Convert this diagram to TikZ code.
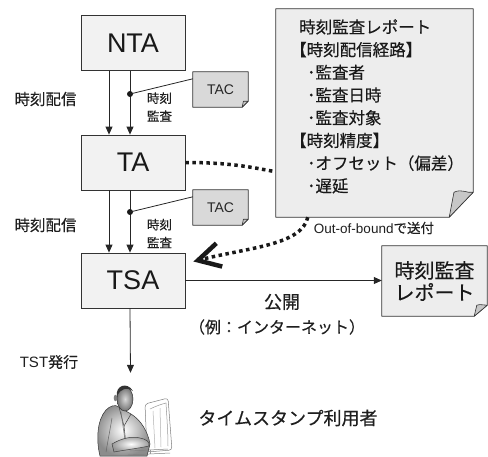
\documentclass[tikz,border=0pt]{standalone}
\usepackage{fontspec}
\setmainfont{Liberation Sans}
\newfontfamily\jp[FakeBold=0.3]{Noto Sans CJK JP}
\usetikzlibrary{arrows.meta,calc}
\pgfdeclarelayer{bg}
\pgfsetlayers{bg,main}

% sheet of paper with a curled lower right corner, drawn behind node #1
\newcommand{\curlsheet}[4]{%
  \begin{pgfonlayer}{bg}
    \filldraw[fill=#4, draw=black!80, line width=0.8pt, line join=round]
      (#1.north west) -- (#1.north east) -- ($(#1.south east)+(0,-#3)$)
      -- ($(#1.south east)+(-#2,0)$) -- (#1.south west) -- cycle;
    \filldraw[fill=black!22, draw=black!80, line width=0.6pt, line join=round]
      ($(#1.south east)+(-#2,0)$) -- ($(#1.south east)+(-0.8*#2,-#3)$)
      .. controls ($(#1.south east)+(-0.45*#2,-1.15*#3)$) and ($(#1.south east)+(-0.3*#2,-0.95*#3)$)
      .. ($(#1.south east)+(0,-#3)$) -- cycle;
  \end{pgfonlayer}}

\tikzset{
  unit/.style={draw=black!80, fill=black!5, line width=0.8pt, minimum width=104pt,
    minimum height=55pt, inner sep=0pt, text=black!90, font=\fontsize{27}{27}\selectfont},
  tacnote/.style={minimum width=55pt, minimum height=35pt, inner sep=0pt,
    text=black!85, font=\fontsize{14}{14}\selectfont},
  sheet/.style={inner sep=0pt},
  arr/.style={-{Triangle[length=8pt,width=7pt]}, line width=0.8pt, draw=black!85},
  thin/.style={line width=0.8pt, draw=black!85},
  junction/.style={circle, fill=black!90, inner sep=0pt, minimum size=6pt},
  lbl/.style={inner sep=0pt, text=black!88, font=\jp\fontsize{15.5}{18}\selectfont},
  sublbl/.style={inner sep=0pt, text=black!88, align=center, font=\jp\fontsize{12.5}{18}\selectfont},
  biglbl/.style={inner sep=0pt, text=black!88, align=center, font=\jp\fontsize{18}{22}\selectfont},
  dotline/.style={line width=3.5pt, dash pattern=on 3.5pt off 3.5pt, draw=black!90},
}

\begin{document}
\begin{tikzpicture}[x=1pt, y=-1pt]
\useasboundingbox (0,0) rectangle (488,456);

% the three time authorities
\node[unit] (nta) at (133,43) {NTA};
\node[unit] (ta)  at (133,162.5) {TA};
\node[unit] (tsa) at (133,280.5) {TSA};

% time distribution and audit lines
\draw[arr] ($(nta.south)+(-24,0)$) -- ($(ta.north)+(-24,0)$);
\draw[arr] ($(nta.south)+(-3,0)$) -- ($(ta.north)+(-3,0)$);
\draw[arr] ($(ta.south)+(-24,0)$) -- ($(tsa.north)+(-24,0)$);
\draw[arr] ($(ta.south)+(-3,0)$) -- ($(tsa.north)+(-3,0)$);

\node[junction] (j1) at (130,94) {};
\node[junction] (j2) at (130,212) {};

% TAC tokens
\node[tacnote] (tac1) at (220.5,89.5) {TAC};
\node[tacnote] (tac2) at (220.5,207.5) {TAC};
\curlsheet{tac1}{6}{6}{black!15}
\curlsheet{tac2}{6}{6}{black!15}
\draw[thin] (j1.center) -- ($(tac1.north west)+(0,7)$);
\draw[thin] (j2.center) -- ($(tac2.north west)+(0,7)$);

\node[lbl] (dist1) at (45.5,99) {時刻配信};
\node[lbl] (dist2) at (45.5,225) {時刻配信};
\node[sublbl] (aud1) at (159.5,107) {時刻\\監査};
\node[sublbl] (aud2) at (159.5,233.5) {時刻\\監査};

% audit report sheet
\node[sheet, minimum width=197pt, minimum height=208pt] (report) at (374.5,113) {};
\curlsheet{report}{24}{25}{black!7}
\node[inner sep=0pt, anchor=north west, align=left, text=black!90,
      font=\jp\fontsize{16.5}{22.7}\selectfont] (reporttext) at (290,19)
  {\hspace*{9pt}時刻監査レポート\\
   【時刻配信経路】\\
   \hspace*{17pt}･監査者\\
   \hspace*{17pt}･監査日時\\
   \hspace*{17pt}･監査対象\\
   【時刻精度】\\
   \hspace*{17pt}･オフセット（偏差）\\
   \hspace*{17pt}･遅延};

% published report sheet
\node[sheet, minimum width=105pt, minimum height=70pt, align=left, text=black!90,
      font=\jp\fontsize{20}{22}\selectfont] (pubreport) at (434.5,281)
  {時刻監査\\レポート};
\curlsheet{pubreport}{13}{11}{black!7}

% out-of-band report delivery
\coordinate (rin) at ($(report.south west)+(-3,-46)$);
\draw[dotline] (ta.east) .. controls +(45,0) and +(-22,-4) .. (rin);
\coordinate (rout) at ($(report.south west)+(32,0)$);
\coordinate (tsain) at ($(tsa.east)+(8,-19)$);
\draw[dotline, -{Straight Barb[length=22pt,width=24pt,line width=4.5pt]}]
  (rout) .. controls +(-6,28) and +(55,-14) .. (tsain);
\node[inner sep=0pt, text=black!88, font=\fontsize{13.5}{14}\selectfont] (oob) at (374,228)
  {Out-of-bound{\jp で送付}};

% publication
\draw[arr] (tsa.east) -- (tsa.east -| pubreport.west);
\node[biglbl] (pub) at (282,302) {公開};
\node[inner sep=0pt, text=black!88, font=\jp\fontsize{16}{18}\selectfont] (pubex) at (277,327)
  {（例：インターネット）};

% timestamp user
\node[inner sep=0pt, minimum width=73pt, minimum height=72pt] (user) at (133.5,420) {};
\draw[arr] ($(tsa.south)+(-3,0)$) -- ($(user.north)+(-3,-11)$);
\node[inner sep=0pt, text=black!88, font=\fontsize{15}{16}\selectfont] (tst) at (49,362)
  {TST{\jp 発行}};
\node[biglbl] (userlbl) at (288,418) {タイムスタンプ利用者};

% figure of a person at a computer
\begin{scope}[line width=0.5pt]
  % monitor
  \filldraw[fill=white, draw=black!50, rounded corners=3pt]
    (145,404) -- (168,398) -- (172,450) -- (147,452) -- cycle;
  \draw[black!40] (150,409) .. controls (156,406) and (162,404) .. (166,403)
    .. controls (167,420) and (168,433) .. (168,446);
  \draw[black!30] (153,411) -- (155,448);
  \draw[black!30] (160,408) -- (161,447);
  % torso
  \shade[inner color=white, outer color=black!45, draw=black!80]
    (100,456) .. controls (96,440) and (97,420) .. (106,410)
    .. controls (110,406) and (115,404) .. (119,407) -- (131,414)
    .. controls (141,420) and (148,432) .. (150,444) -- (147,456) -- cycle;
  % lapel and tie
  \draw[black!75] (119,407) -- (124,426) -- (131,414);
  \draw[black!75] (124,426) -- (126,445);
  \draw[black!55] (121,412) -- (125,440);
  \draw[black!60] (112,418) .. controls (110,430) and (108,440) .. (106,452);
  % arm and hand on the keyboard
  \shade[inner color=white, outer color=black!40, draw=black!75]
    (112,444) .. controls (122,438) and (132,436) .. (140,438)
    .. controls (146,439) and (150,442) .. (149,446)
    .. controls (140,448) and (125,450) .. (114,452) -- cycle;
  % keyboard
  \draw[black!50] (130,451) -- (168,449);
  \draw[black!50] (128,455) -- (170,453);
  \draw[black!40] (150,449.5) -- (150,454);
  % head
  \shade[inner color=black!15, outer color=black!55, draw=black!80]
    (125,399) ellipse (8 and 12);
  \fill[black!80] (117,396) .. controls (115,386) and (127,381) .. (133,391)
    .. controls (127,387) and (121,388) .. (117,396) -- cycle;
  \fill[black!50] (115.5,398) ellipse (1.8 and 3.2);
\end{scope}
\end{tikzpicture}
\end{document}
